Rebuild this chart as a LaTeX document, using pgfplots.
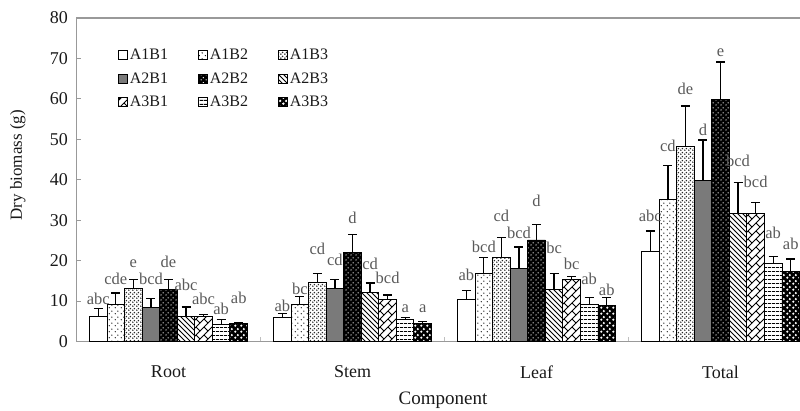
\documentclass[border=0pt]{standalone}
\usepackage{fontspec}
\setmainfont{Liberation Serif}
\usepackage{pgfplots}
\pgfplotsset{compat=1.18}
\usepackage{pgfplotstable}
\usetikzlibrary{patterns}

% ---------- patterns ----------
\pgfdeclarepatternformonly{sparsedots}{\pgfqpoint{0pt}{0pt}}{\pgfqpoint{6pt}{6pt}}{\pgfqpoint{6pt}{6pt}}{%
  \pgfpathcircle{\pgfqpoint{1.5pt}{1.5pt}}{0.75pt}\pgfpathcircle{\pgfqpoint{4.5pt}{4.5pt}}{0.75pt}\pgfusepath{fill}}
\pgfdeclarepatternformonly{checkdots}{\pgfqpoint{0pt}{0pt}}{\pgfqpoint{4pt}{4pt}}{\pgfqpoint{4pt}{4pt}}{%
  \pgfpathcircle{\pgfqpoint{1pt}{1pt}}{1pt}\pgfpathcircle{\pgfqpoint{3pt}{3pt}}{1pt}\pgfusepath{fill}}
\pgfdeclarepatternformonly{whitedots}{\pgfqpoint{0pt}{0pt}}{\pgfqpoint{5pt}{5pt}}{\pgfqpoint{5pt}{5pt}}{%
  \pgfpathcircle{\pgfqpoint{1.25pt}{1.25pt}}{0.8pt}\pgfpathcircle{\pgfqpoint{3.75pt}{3.75pt}}{0.8pt}\pgfusepath{fill}}
\pgfdeclarepatternformonly{nwlines}{\pgfqpoint{-1pt}{-1pt}}{\pgfqpoint{6pt}{6pt}}{\pgfqpoint{5pt}{5pt}}{%
  \pgfsetlinewidth{1pt}\pgfpathmoveto{\pgfqpoint{0pt}{5pt}}\pgfpathlineto{\pgfqpoint{5pt}{0pt}}\pgfusepath{stroke}}
\pgfdeclarepatternformonly{zigzag}{\pgfqpoint{-1pt}{-1pt}}{\pgfqpoint{9pt}{9pt}}{\pgfqpoint{8pt}{8pt}}{%
  \pgfsetlinewidth{1pt}\pgfpathmoveto{\pgfqpoint{0pt}{0pt}}\pgfpathlineto{\pgfqpoint{8pt}{8pt}}
  \pgfpathmoveto{\pgfqpoint{4pt}{4pt}}\pgfpathlineto{\pgfqpoint{8pt}{0pt}}\pgfusepath{stroke}}
\pgfdeclarepatternformonly{hlinesb}{\pgfqpoint{0pt}{0pt}}{\pgfqpoint{4pt}{3.5pt}}{\pgfqpoint{4pt}{3.5pt}}{%
  \pgfsetlinewidth{1pt}\pgfpathmoveto{\pgfqpoint{0pt}{1.75pt}}\pgfpathlineto{\pgfqpoint{4pt}{1.75pt}}\pgfusepath{stroke}}
\pgfdeclarepatternformonly{bigcircles}{\pgfqpoint{0pt}{0pt}}{\pgfqpoint{6pt}{6pt}}{\pgfqpoint{6pt}{6pt}}{%
  \pgfpathcircle{\pgfqpoint{1.5pt}{1.5pt}}{1.4pt}\pgfpathcircle{\pgfqpoint{4.5pt}{4.5pt}}{1.4pt}\pgfusepath{fill}}

% ---------- data: x, mean, error, letters, letter height (Root, Stem, Leaf, Total) ----------
\pgfplotstableread{
x y e lab ly
0 6.2 1.9 abc 10.5
1 5.9 1.1 ab 8.8
2 10.4 2.2 ab 16.3
3 22.3 5.0 abc 31.0
}\tAoneBone
\pgfplotstableread{
x y e lab ly
0 9.2 2.8 cde 15.5
1 9.2 1.9 bc 12.9
2 16.8 4.0 bcd 23.3
3 35.1 8.5 cd 48.2
}\tAoneBtwo
\pgfplotstableread{
x y e lab ly
0 13.2 2.1 e 19.7
1 14.5 2.4 cd 22.9
2 20.8 4.9 cd 31.0
3 48.3 9.9 de 62.4
}\tAoneBthree
\pgfplotstableread{
x y e lab ly
0 8.5 2.1 bcd 15.5
1 13.0 2.3 cd 20.0
2 18.1 5.3 bcd 26.8
3 39.9 9.9 d 52.3
}\tAtwoBone
\pgfplotstableread{
x y e lab ly
0 12.8 2.5 de 19.7
1 22.0 4.4 d 30.6
2 25.1 3.8 d 34.7
3 59.9 9.2 e 71.8
}\tAtwoBtwo
\pgfplotstableread{
x y e lab ly
0 6.2 2.3 abc 14.0
1 12.2 2.3 cd 19.1
2 12.9 4.0 bc 23.0
3 31.6 7.7 bcd 44.6
}\tAtwoBthree
\pgfplotstableread{
x y e lab ly
0 6.2 0.4 abc 10.5
1 10.3 1.2 bcd 15.6
2 15.3 0.8 bc 19.1
3 31.6 2.8 bcd 39.5
}\tAthreeBone
\pgfplotstableread{
x y e lab ly
0 4.1 1.3 ab 8.0
1 5.4 0.5 a 8.6
2 9.1 1.7 ab 15.4
3 19.3 1.8 ab 26.8
}\tAthreeBtwo
\pgfplotstableread{
x y e lab ly
0 4.4 0.3 ab 10.8
1 4.4 0.5 a 8.6
2 8.9 1.9 ab 12.7
3 17.3 3.1 ab 24.0
}\tAthreeBthree

\pgfplotsset{
  mybar/.style={ybar, bar width=0.0954, draw=black, line width=0.9pt,
    legend image code/.code={\draw[##1, line width=0.8pt] (0pt,-4.5pt) rectangle (9pt,4.5pt);}},
  s1/.style={fill=white},
  s2/.style={preaction={fill=white}, pattern=sparsedots, pattern color=black},
  s3/.style={preaction={fill=white}, pattern=checkdots, pattern color=black!85},
  s4/.style={fill=black!52},
  s5/.style={preaction={fill=black}, pattern=whitedots, pattern color=white},
  s6/.style={preaction={fill=white}, pattern=nwlines, pattern color=black},
  s7/.style={preaction={fill=white}, pattern=zigzag, pattern color=black},
  s8/.style={preaction={fill=white}, pattern=hlinesb, pattern color=black},
  s9/.style={preaction={fill=black}, pattern=bigcircles, pattern color=white},
}

\newcommand{\series}[3]{%
  \addplot[mybar, #2, bar shift=#3] table[x=x, y=y] {#1};
  \addplot[draw=none, mark=none, forget plot,
    error bars/.cd, y dir=plus, y explicit,
    error bar style={draw=black, line width=1.3pt},
    error mark options={rotate=90, mark size=4.5pt, draw=black, line width=1.3pt}]
    table[x expr=\thisrow{x}+(#3), y=y, y error=e] {#1};
  \addplot[draw=none, mark=none, forget plot, nodes near coords,
    point meta=explicit symbolic,
    every node near coord/.append style={font=\fontsize{16.5}{18}\selectfont, text=black!65,
      inner sep=1pt, text height=11pt, text depth=0pt, yshift=-6.5pt}]
    table[x expr=\thisrow{x}+(#3), y=ly, meta=lab] {#1};
}

\begin{document}
\begin{tikzpicture}
\begin{axis}[
  scale only axis, width=723.5pt, height=323.5pt,
  xmin=-0.5, xmax=3.432, ymin=0, ymax=80,
  axis x line*=bottom, axis y line*=left,
  axis line style={draw=black!40, line width=1.5pt},
  xtick={0,1,2,3}, xticklabels={Root,Stem,Leaf,Total},
  minor xtick={0.5,1.5,2.5},
  ytick={0,10,...,80},
  tick align=inside,
  major tick length=5pt, minor tick length=4pt,
  major x tick style={draw=none},
  minor x tick style={draw=black!25, line width=0.8pt},
  y tick style={draw=black!40, line width=1pt},
  /pgf/number format/assume math mode=true,
  tick label style={font=\fontsize{18}{20}\selectfont, text=black!90},
  yticklabel style={xshift=-5pt},
  xticklabel style={yshift=-21pt},
  xlabel={Component}, ylabel={Dry biomass (g)},
  xlabel style={at={(axis description cs:0.5066,-0.183)}, anchor=center, font=\fontsize{19}{22}\selectfont, text=black!90},
  ylabel style={at={(axis description cs:-0.081,0.545)}, anchor=center, font=\fontsize{17}{20}\selectfont, text=black!90},
  legend columns=3,
  legend entries={A1B1,A1B2,A1B3,A2B1,A2B2,A2B3,A3B1,A3B2,A3B3},
  legend style={at={(0.053,0.917)}, anchor=north west, draw=none, fill=none,
    font=\fontsize{16}{18}\selectfont, text=black!90,
    /tikz/row sep=7.5pt,
    /tikz/every even column/.append style={column sep=28pt}},
]
\series{\tAoneBone}{s1}{-0.3816}
\series{\tAoneBtwo}{s2}{-0.2862}
\series{\tAoneBthree}{s3}{-0.1908}
\series{\tAtwoBone}{s4}{-0.0954}
\series{\tAtwoBtwo}{s5}{0}
\series{\tAtwoBthree}{s6}{0.0954}
\series{\tAthreeBone}{s7}{0.1908}
\series{\tAthreeBtwo}{s8}{0.2862}
\series{\tAthreeBthree}{s9}{0.3816}
\draw[draw=black!40, line width=1.5pt] (rel axis cs:0,1) -- (rel axis cs:1,1);
\coordinate (ll) at (rel axis cs:0,0);
\coordinate (ur) at (rel axis cs:1,1);
\end{axis}
\pgfresetboundingbox
\path[use as bounding box] ([xshift=-76.5pt,yshift=-69.5pt]ll) rectangle ([yshift=18pt]ur);
\end{tikzpicture}
\end{document}
